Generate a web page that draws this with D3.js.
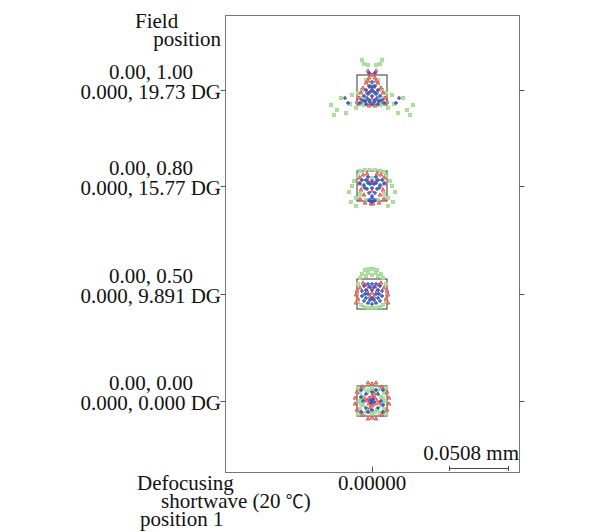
<!DOCTYPE html>
<html>
<head>
<meta charset="utf-8">
<script src="https://cdn.jsdelivr.net/npm/d3@7"></script>
<style>
  body { margin: 0; background: #fff; }
  text { font-family: "Liberation Serif", serif; font-size: 21px; fill: #111; }
</style>
</head>
<body>
<svg width="616" height="532"></svg>
<script>
// field labels, top to bottom
const fieldRel = ["0.00, 1.00", "0.00, 0.80", "0.00, 0.50", "0.00, 0.00"];
const fieldDeg = ["0.000, 19.73 DG", "0.000, 15.77 DG", "0.000, 9.891 DG", "0.000, 0.000 DG"];
const defocus = ["0.00000"];
const boxSize = 25.4;     // um, side of the reference box
const scaleBar = 50.8;    // um, "0.0508 mm"

// spot positions in um, x right, y down, per field (top to bottom)
const spotsGreen = [
  [[-8.5,-25.4],[-6.8,-22.0],[-3.4,-21.2],[3.4,-21.2],[6.8,-22.0],[8.5,-25.4],
   [-34.7,12.7],[-32.2,21.2],[-26.3,6.8],[-22.0,19.5],[-16.9,4.2],[-18.6,11.9],[-13.5,15.2],[-29.7,16.9],
   [34.7,12.7],[32.2,21.2],[26.3,6.8],[22.0,19.5],[16.9,4.2],[18.6,11.9],[13.5,15.2],[29.7,16.9],
   [-5.1,-8.5],[5.1,-8.5],[-8.5,0],[8.5,0],[-10.2,6.8],[10.2,6.8],[-3.4,10.2],[3.4,10.2],[0,-4.2],
   [-6.8,12.7],[6.8,12.7],[-11.9,2.5],[11.9,2.5],[-9.3,11.9],[9.3,11.9]],
  [[-15.2,-4.2],[-19.5,5.1],[-17.8,13.5],[-13.5,16.9],[15.2,-4.2],[19.5,5.1],[17.8,13.5],[13.5,16.9],
   [-10.2,-12.7],[-5.9,-13.5],[-1.7,-13.5],[2.5,-13.5],[6.8,-12.7],[10.2,-11.9],[-11.9,-8.5],[11.9,-8.5],
   [-10.2,6.8],[10.2,6.8],[-5.1,11.9],[5.1,11.9],[0,-6.8],[-7.6,0],[7.6,0],
   [-13.5,10.2],[13.5,10.2],[-16.9,0],[16.9,0]],
  [[-5.9,-20.3],[-2.5,-21.2],[0.8,-21.2],[4.2,-20.3],[-8.5,-16.9],[7.6,-16.9],[-10.2,-13.5],[9.3,-13.5],
   [-5.1,-15.2],[5.1,-15.2],[-11.9,-8.5],[11.9,-8.5],[-12.7,0],[12.7,0],[-11.9,6.8],[11.9,6.8],
   [-6.8,11.0],[-3.4,11.9],[0,11.9],[3.4,11.9],[6.8,11.0],[-9.3,9.3],[9.3,9.3],
   [-3.4,-17.8],[3.4,-17.8],[0,-16.1]],
  [[-10.2,-6.8],[-6.8,-10.2],[0,-11.0],[6.8,-10.2],[10.2,-6.8],[11.0,0],[10.2,6.8],[6.8,10.2],[0,11.0],
   [-6.8,10.2],[-10.2,6.8],[-11.0,0],[-4.2,-7.6],[4.2,-7.6],[7.6,-3.4],[7.6,3.4],[4.2,7.6],[-4.2,7.6],
   [-7.6,3.4],[-7.6,-3.4],[-11.9,-11.0],[11.9,-11.0],[-11.9,11.0],[11.9,11.0],
   [-2.5,-9.3],[2.5,-9.3],[9.3,-2.5],[9.3,2.5],[2.5,9.3],[-2.5,9.3],[-9.3,2.5],[-9.3,-2.5]]
];
const spotsBlue = [
  [[-2.5,-14.4],[2.5,-14.4],[-22.9,6.8],[22.9,6.8],[-20.3,11.0],[20.3,11.0],[0,-6.8],[-2.5,-3.4],[2.5,-3.4],
   [-5.1,0],[5.1,0],[0,0],[-3.4,3.4],[3.4,3.4],[-6.8,5.1],[6.8,5.1],[0,5.1],[-2.5,8.5],[2.5,8.5],
   [-8.5,8.5],[8.5,8.5],[0,11.9],[-5.1,11.9],[5.1,11.9],[-10.2,11.0],[10.2,11.0],
   [-1.7,1.7],[1.7,1.7],[-4.2,6.8],[4.2,6.8],[-1.7,10.2],[1.7,10.2],[-5.9,9.3],[5.9,9.3],[0,-2.5]],
  [[-8.5,-5.1],[-5.1,-5.1],[5.1,-5.1],[8.5,-5.1],[-6.8,-0.8],[6.8,-0.8],[-4.2,2.5],[4.2,2.5],[-2.5,5.9],
   [2.5,5.9],[0,8.5],[-1.7,-1.7],[1.7,-1.7],[0,1.7],[-2.5,11.9],[0,13.5],[2.5,11.9],[0,10.2],
   [-10.2,-2.5],[10.2,-2.5],[-3.4,-7.6],[3.4,-7.6],
   [-5.9,1.7],[5.9,1.7],[-3.4,-2.5],[3.4,-2.5],[-1.7,12.7],[1.7,12.7],[0,-4.2]],
  [[-6.8,-6.8],[-3.4,-8.5],[0,-8.5],[3.4,-8.5],[6.8,-6.8],[-8.5,-2.5],[8.5,-2.5],[-8.5,1.7],[8.5,1.7],
   [-6.8,5.9],[6.8,5.9],[-3.4,7.6],[0,8.5],[3.4,7.6],[-3.4,0],[3.4,0],[0,-3.4],[0,3.4],[-5.1,3.4],
   [5.1,3.4],[-5.1,-3.4],[5.1,-3.4],
   [-1.7,-5.9],[1.7,-5.9],[-5.9,0],[5.9,0],[-1.7,5.1],[1.7,5.1]],
  [[0,-7.6],[5.1,-5.9],[7.6,0],[5.1,5.9],[0,7.6],[-5.1,5.9],[-7.6,0],[-5.1,-5.9],[-9.3,-3.4],[9.3,3.4],
   [-3.4,9.3],[3.4,-9.3],[0,0],[-1.7,-0.8],[1.7,0.8],[0.8,-1.7],[-0.8,1.7],[-9.3,9.3],[9.3,-9.3],[9.3,9.3],[-9.3,-9.3]]
];
const spotsRed = [
  [[-3.4,-16.1],[3.4,-16.1],[-2.5,-10.2],[2.5,-10.2],[-5.1,-5.9],[5.1,-5.9],[-7.6,-1.7],[7.6,-1.7],
   [-9.3,2.5],[9.3,2.5],[-11.0,6.8],[11.0,6.8],[-12.7,10.2],[12.7,10.2],[-1.7,-2.5],[1.7,-2.5],
   [-4.2,1.7],[4.2,1.7],[0,7.6],[-6.8,9.3],[6.8,9.3],[-2.5,13.5],[2.5,13.5],
   [-0.8,-12.7],[0.8,-12.7],[-3.4,-7.6],[3.4,-7.6]],
  [[-10.2,-6.8],[-7.6,-9.3],[-4.2,-10.2],[4.2,-10.2],[7.6,-9.3],[10.2,-6.8],[-11.0,-1.7],[11.0,-1.7],
   [-9.3,3.4],[9.3,3.4],[-6.8,7.6],[6.8,7.6],[-10.2,11.0],[10.2,11.0],[-3.4,-4.2],[3.4,-4.2],[0,-2.5],
   [0,4.2],[-5.9,14.4],[5.9,14.4],[-0.8,15.2],[0.8,15.2]],
  [[-12.7,-2.5],[-13.5,0.8],[-11.9,4.2],[12.7,-2.5],[13.5,0.8],[11.9,4.2],[-5.9,-7.6],[-2.5,-5.9],
   [2.5,-5.9],[5.9,-7.6],[-4.2,-2.5],[4.2,-2.5],[0,-0.8],[-1.7,2.5],[1.7,2.5],[-7.6,-9.3],[7.6,-9.3],
   [-10.2,-5.1],[10.2,-5.1],[-13.5,7.6],[13.5,7.6]],
  [[0,-14.4],[-3.4,-15.2],[3.4,-15.2],[-8.5,-11.9],[8.5,-11.9],[-12.7,-7.6],[12.7,-7.6],[-14.4,-2.5],
   [14.4,-2.5],[-14.4,2.5],[14.4,2.5],[-12.7,7.6],[12.7,7.6],[-8.5,11.9],[8.5,11.9],[-3.4,15.2],[3.4,15.2],
   [0,14.4],[0,-4.2],[-2.5,-2.5],[2.5,-2.5],[-4.2,0],[4.2,0],[-2.5,2.5],[2.5,2.5],[0,4.2],
   [-5.9,-1.7],[5.9,1.7],[1.7,-5.9],[-1.7,5.9]]
];

const svg = d3.select("svg");
const frame = { left: 225, right: 519, top: 15, bottom: 472 };
const rowY = [90, 186, 294, 401]; // row centres as laid out in the plot

const yRow = d3.scaleOrdinal().domain(fieldRel).range(rowY);
const xCol = d3.scalePoint().domain(defocus).range([frame.left, frame.right]).padding(0.5);
const um = d3.scaleLinear().domain([0, scaleBar]).range([0, 60]);

// frame
svg.append("rect")
  .attr("x", frame.left + 0.5).attr("y", frame.top + 0.5)
  .attr("width", frame.right - frame.left).attr("height", frame.bottom - frame.top)
  .attr("fill", "none").attr("stroke", "#777");

// left, right and bottom ticks
const gl = svg.append("g").attr("transform", `translate(${frame.left + 0.5},0)`).call(d3.axisLeft(yRow).tickSize(5).tickFormat(""));
const gr = svg.append("g").attr("transform", `translate(${frame.right + 0.5},0)`).call(d3.axisRight(yRow).tickSize(5).tickFormat(""));
const gb = svg.append("g").attr("transform", `translate(0,${frame.bottom + 0.5})`).call(d3.axisTop(xCol).tickSize(6).tickFormat(""));
[gl, gr, gb].forEach(g => {
  g.select(".domain").remove();
  g.selectAll("line").attr("stroke", "#555");
});

// field labels (two tight lines per row)
fieldRel.forEach((f, i) => {
  const y = yRow(f);
  svg.append("text").attr("x", 151).attr("y", y - 11).attr("text-anchor", "middle").text(f);
  svg.append("text").attr("x", 221).attr("y", y + 9).attr("text-anchor", "end").text(fieldDeg[i]);
});
svg.append("text").attr("x", 135).attr("y", 28).text("Field");
svg.append("text").attr("x", 221).attr("y", 46).attr("text-anchor", "end").text("position");

// bottom labels
svg.append("text").attr("x", 137).attr("y", 490).text("Defocusing");
const sw = svg.append("text").attr("x", 161).attr("y", 508).text("shortwave (20 ");
sw.append("tspan").style("font-family", "'Noto Sans CJK SC'").style("font-size", "18px").text("\u2103");
sw.append("tspan").text(")");
svg.append("text").attr("x", 140).attr("y", 526).text("position 1");
defocus.forEach(d => {
  svg.append("text").attr("x", xCol(d)).attr("y", 490).attr("text-anchor", "middle").text(d);
});

// scale bar
const sbX = 449, sbY = 468;
svg.append("text").attr("x", frame.right).attr("y", 460).attr("text-anchor", "end").text("0.0508 mm");
const sb = svg.append("g").attr("stroke", "#444").attr("stroke-width", 1);
sb.append("line").attr("x1", sbX).attr("x2", sbX + um(scaleBar)).attr("y1", sbY + 0.5).attr("y2", sbY + 0.5);
sb.append("line").attr("x1", sbX + 0.5).attr("x2", sbX + 0.5).attr("y1", sbY - 2).attr("y2", sbY + 3);
sb.append("line").attr("x1", sbX + um(scaleBar) - 0.5).attr("x2", sbX + um(scaleBar) - 0.5).attr("y1", sbY - 2).attr("y2", sbY + 3);

// spots
const cx = xCol(defocus[0]);
fieldRel.forEach((f, i) => {
  const g = svg.append("g").attr("transform", `translate(${cx},${yRow(f)})`);
  g.append("rect")
    .attr("x", -um(boxSize / 2)).attr("y", -um(boxSize / 2))
    .attr("width", um(boxSize)).attr("height", um(boxSize))
    .attr("fill", "none").attr("stroke", "#555").attr("stroke-width", 1.2);

  g.selectAll(".g").data(spotsGreen[i]).join("rect")
    .attr("x", d => um(d[0]) - 1.7).attr("y", d => um(d[1]) - 1.7)
    .attr("width", 3.4).attr("height", 3.4)
    .attr("fill", "#b2e0a4").attr("stroke", "#94d283").attr("stroke-width", 0.6);

  g.selectAll(".r").data(spotsRed[i]).join("path")
    .attr("transform", d => `translate(${um(d[0])},${um(d[1])})`)
    .attr("d", d3.symbol(d3.symbolTriangle, 6))
    .attr("fill", "#f4a39c").attr("stroke", "#e2463c").attr("stroke-width", 0.9);

  g.selectAll(".b").data(spotsBlue[i]).join("path")
    .attr("transform", d => `translate(${um(d[0])},${um(d[1])})`)
    .attr("d", "M-2,0H2M0,-2V2")
    .attr("stroke", "#3552c2").attr("stroke-width", 1.3);
});
</script>
</body>
</html>
